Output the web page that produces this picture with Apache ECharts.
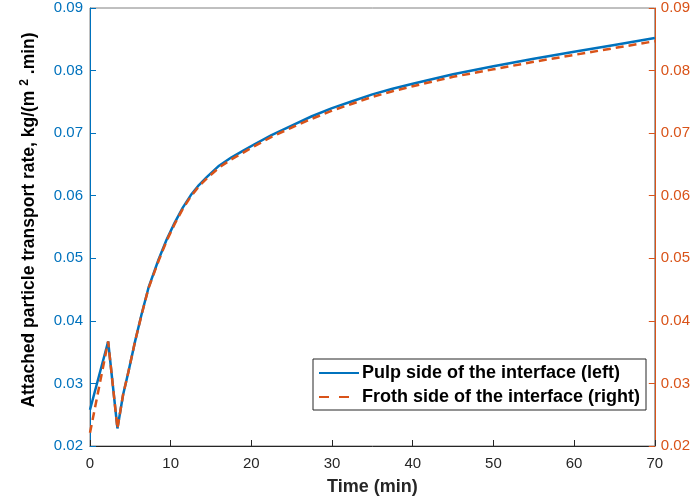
<!DOCTYPE html>
<html>
<head>
<meta charset="utf-8">
<script src="https://cdn.jsdelivr.net/npm/echarts@6/dist/echarts.min.js"></script>
<style>
  html, body { margin: 0; padding: 0; background: #fff; overflow: hidden; }
  #chart { width: 693px; height: 502px; }
</style>
</head>
<body>
<div id="chart"></div>
<script>
// Time (min) sampled for both series
const timeMin = [0, 2.25, 3.4, 4.1, 4.75, 5.6, 6.4, 7.25, 8.5, 9.5, 10.5, 11.5, 12.5, 13.5, 14.5, 16, 17.5, 19, 20.5, 22.5, 25, 27.5, 30, 32.5, 35, 37.5, 40, 45, 50, 55, 60, 65, 70];
// Attached particle transport rate, pulp side (left axis)
const pulpRate = [0.0258, 0.0367, 0.0228, 0.0282, 0.0318, 0.0368, 0.0411, 0.0453, 0.0498, 0.0530, 0.0557, 0.0581, 0.0601, 0.0617, 0.0630, 0.0648, 0.0661, 0.0672, 0.0683, 0.0697, 0.0712, 0.0727, 0.0740, 0.0751, 0.0762, 0.0771, 0.0779, 0.0794, 0.0807, 0.0819, 0.0830, 0.0841, 0.0852];
// Attached particle transport rate, froth side (right axis)
const frothRate = [0.0221, 0.0367, 0.0228, 0.0282, 0.0318, 0.0368, 0.0410, 0.0452, 0.0496, 0.0528, 0.0555, 0.0579, 0.0599, 0.0615, 0.0628, 0.0645, 0.0658, 0.0669, 0.0680, 0.0694, 0.0709, 0.0723, 0.0736, 0.0747, 0.0758, 0.0767, 0.0775, 0.0790, 0.0802, 0.0814, 0.0825, 0.0836, 0.0847];
const xTicks = [0, 10, 20, 30, 40, 50, 60, 70];
const yTicks = [0.02, 0.03, 0.04, 0.05, 0.06, 0.07, 0.08, 0.09];
const seriesNames = ['Pulp side of the interface (left)', 'Froth side of the interface (right)'];

const BLUE = '#0072BD';
const ORANGE = '#D95319';
const DARK = '#262626';
const FONT = '"Liberation Sans", Arial, Helvetica, sans-serif';

const pairs = (xs, ys) => xs.map((x, i) => [x, ys[i]]);

function yAxisDef(pos, color, labelMargin, withName) {
  return {
    type: 'value',
    position: pos,
    min: yTicks[0],
    max: yTicks[yTicks.length - 1],
    interval: 0.01,
    axisLine: { show: true, lineStyle: { color: color, width: 1 } },
    axisTick: { show: true, inside: true, length: 6, lineStyle: { color: color } },
    splitLine: { show: false },
    axisLabel: {
      color: color, fontSize: 15, fontFamily: FONT, margin: labelMargin,
      formatter: v => v.toFixed(2)
    },
    name: withName ? '{t|Attached particle transport rate, kg/(m }{s|2}{t| .min)}' : '',
    nameLocation: 'middle',
    nameGap: 50,
    nameRotate: 90,
    nameTextStyle: {
      padding: [0, 0, 0, 14],
      rich: {
        t: { color: '#000', fontSize: 17.5, fontWeight: 'bold', fontFamily: FONT },
        s: { color: '#000', fontSize: 12, fontWeight: 'bold', fontFamily: FONT, padding: [0, 0, 9, 0] }
      }
    }
  };
}

const chart = echarts.init(document.getElementById('chart'), null, { renderer: 'canvas' });
chart.setOption({
  animation: false,
  backgroundColor: '#fff',
  grid: { left: 90, right: 38, top: 8, bottom: 56, show: true, borderColor: '#808080', borderWidth: 1 },
  xAxis: {
    type: 'value',
    min: xTicks[0],
    max: xTicks[xTicks.length - 1],
    interval: 10,
    axisLine: { show: true, onZero: false, lineStyle: { color: DARK } },
    axisTick: { show: true, inside: true, length: 6, lineStyle: { color: DARK } },
    splitLine: { show: false },
    axisLabel: { color: DARK, fontSize: 15, fontFamily: FONT, margin: 10 },
    name: 'Time (min)',
    nameLocation: 'middle',
    nameGap: 32,
    nameTextStyle: { color: DARK, fontSize: 18, fontWeight: 'bold', fontFamily: FONT }
  },
  yAxis: [yAxisDef('left', BLUE, 7, true), yAxisDef('right', ORANGE, 6, false)],
  legend: {
    orient: 'vertical',
    left: 313,
    top: 359,
    padding: [5, 6, 4, 5],
    itemGap: 6,
    itemWidth: 40,
    itemHeight: 18,
    backgroundColor: '#fff',
    borderColor: '#262626',
    borderWidth: 1,
    borderRadius: 0,
    itemStyle: { opacity: 0 },
    textStyle: { color: '#000', fontSize: 18, fontWeight: 'bold', fontFamily: FONT, padding: [0, 0, 0, -2] },
    data: [
      { name: seriesNames[0] },
      { name: seriesNames[1], lineStyle: { type: [10, 10] } }
    ]
  },
  series: [
    {
      name: seriesNames[0],
      type: 'line',
      yAxisIndex: 0,
      data: pairs(timeMin, pulpRate),
      showSymbol: false,
      symbol: 'none',
      lineStyle: { color: BLUE, width: 2.5 },
      itemStyle: { color: BLUE },
      z: 2
    },
    {
      name: seriesNames[1],
      type: 'line',
      yAxisIndex: 1,
      data: pairs(timeMin, frothRate),
      showSymbol: false,
      symbol: 'none',
      lineStyle: { color: ORANGE, width: 2.5, type: [8, 5] },
      itemStyle: { color: ORANGE },
      z: 3
    }
  ]
});
</script>
</body>
</html>
